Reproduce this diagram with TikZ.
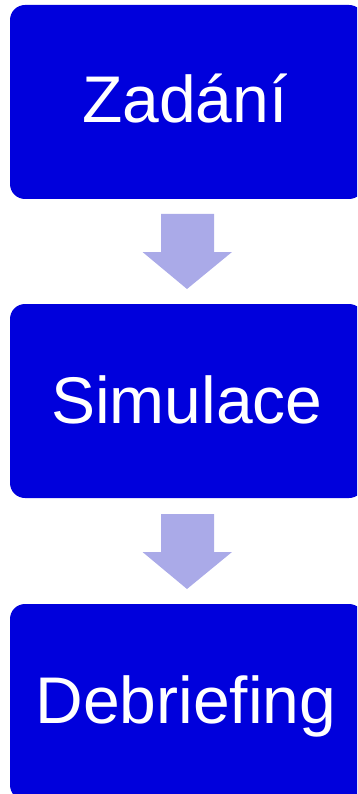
\documentclass[tikz,border=0pt]{standalone}
\usepackage{fontspec}
\setmainfont{Liberation Sans}
\definecolor{boxblue}{RGB}{0,0,220}
\definecolor{arrowlav}{RGB}{170,170,232}
\begin{document}
\begin{tikzpicture}[x=1pt,y=-1pt,
  stepbox/.style={fill=boxblue,rounded corners=15pt},
  steplabel/.style={text=white,anchor=base,inner sep=0pt,font=\fontsize{66}{70}\selectfont},
  downarrow/.style={fill=arrowlav}]
\useasboundingbox (0,0) rectangle (357,794);
\begin{scope}
\clip (0,0) rectangle (357,794);
\fill[stepbox] (10,5) rectangle (364,199);
\fill[stepbox] (10,304) rectangle (364,498);
\fill[stepbox] (10,604) rectangle (364,800);
\end{scope}
\node[steplabel] (z) at (185,123) {Zadání};
\node[steplabel] (s) at (187,423) {Simulace};
\node[steplabel] (d) at (186,723) {Debriefing};
\foreach \o in {0,300}{
  \fill[downarrow] (161,214+\o) -- (214,214+\o) -- (214,252+\o) -- (232,252+\o)
    -- (187,289+\o) -- (142.5,252+\o) -- (161,252+\o) -- cycle;
}
\end{tikzpicture}
\end{document}
